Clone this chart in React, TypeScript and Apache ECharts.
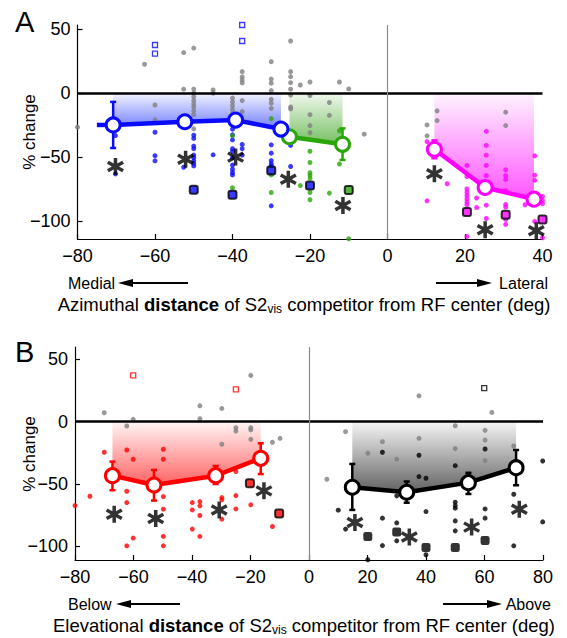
import React, { useEffect, useRef } from 'react';
import * as echarts from 'echarts';

const FONT = '"Liberation Sans", Arial, Helvetica, sans-serif';

// ---------- axis ticks ----------
const yTickValues = [-100, -50, 0, 50];
const xTicksA = [-80, -60, -40, -20, 0, 20, 40];
const xTicksB = [-80, -60, -40, -20, 0, 20, 40, 60, 80];

// ---------- Panel A (azimuthal) ----------
const aGray = [
  [-80, -26.7], [-62.7, 22.4], [-60, -9.4], [-60, -21], [-52.6, 31.5], [-52.6, 2.9],
  [-50, 35], [-50, 3], [-50, 0], [-50, -3], [-50, -6], [-50, -8.6], [-50, -11], [-50, -14], [-50, -17], [-50, -28],
  [-45, 2.3], [-45, -0.2], [-40, -4], [-40, -7], [-40, -10], [-40, -13], [-40, -16],
  [-37.5, 16.6], [-37.5, 12.5], [-37.5, 10], [-37.5, 7.8], [-37.5, -6], [-37.5, -14.6],
  [-30, 24.4], [-30, 10.8], [-30, 7.6], [-30, 1.8], [-30, -5], [-30, -8], [-30, -12],
  [-25, 40.5], [-25, 16.6], [-25, 12.7], [-25, 8], [-25, 2.9], [-25, -1.6], [-25, -11], [-25, -12.5],
  [-22.5, 6.2], [-20, 8.5], [-20, -2], [-20, -17], [-20, -25.5], [-20, -31],
  [-15, -7.5], [-15, -17.5], [-12.4, 8.5], [-10, 3.1], [-6, -32.2],
  [10.2, -25], [10.2, -33.5], [12.8, -14], [12.8, -21.6], [30.5, -15], [30.5, -25.5],
];
const aBlue = [
  [-70.2, -33.3], [-70.2, -63.2], [-60, -30.7], [-60, -49], [-60, -53], [-52.6, -58],
  [-50, -33], [-50, -35.5], [-50, -41.5], [-50, -43.5], [-50, -48.5], [-50, -50.5], [-50, -53], [-50, -55], [-50, -57],
  [-45, -48.3], [-40, -28.3], [-40, -32.7], [-40, -36.6], [-40, -43.5], [-40, -45.7], [-40, -50.5], [-40, -56.3],
  [-40, -59.5], [-40, -62.1], [-40, -64], [-37.5, -40.2], [-37.5, -43.5], [-37.5, -48.5],
  [-30, -40.5], [-30, -47], [-30, -52.8], [-30, -55.3], [-30, -57], [-30, -88.1], [-25, -41], [-25, -57.4],
];
const aBlueOpen = [[-60, 37.4], [-60, 30.6], [-37.5, 53], [-37.5, 40.5]];
const aBlueBox = [[-50, -75.6], [-40, -79.5], [-30, -60.5], [-20, -72.2]];
const aGreen = [
  [-40, -33.5], [-40, -74], [-30, -20], [-30, -64], [-30, -77.7], [-22.5, -72.3],
  [-20, -45.5], [-20, -54.3], [-20, -62.3], [-20, -64.3], [-20, -66.5], [-20, -77.7], [-20, -83.4],
  [-15, -78.2], [-12.4, -29.5], [-12.4, -55.5], [-10, -113.8],
];
const aGreenBox = [[-10, -75.7]];
const aMagenta = [
  [10.2, -38], [10.2, -84.2], [15.4, -70.9],
  [20.5, -56.6], [20.5, -65.2], [20.5, -75], [20.5, -77.5], [20.5, -80], [20.5, -82.5], [20.5, -85], [20.5, -87.3], [20.5, -112],
  [23, -82], [23, -89.4],
  [25.5, -30], [25.5, -41], [25.5, -48.6], [25.5, -56.6], [25.5, -64.5], [25.5, -87.6], [25.5, -98],
  [30.5, -60], [30.5, -64.6], [30.5, -67.5], [30.5, -76.2], [30.5, -87], [30.5, -89], [30.5, -98.7], [30.5, -102.6],
  [35.5, -87.3], [38, -49.1], [38, -64.2], [38, -68.2], [38, -100.3],
  [40, -80.8], [40, -83.8], [40, -86.4], [40, -113],
];
const aMagentaBox = [[20.5, -93], [30.5, -95.1], [40, -98.7]];
const aStars = [
  [-70.2, -57.4], [-52.1, -51.7], [-39.2, -50.1], [-25.6, -67.3], [-11.5, -87.8],
  [12.1, -63.1], [25.2, -106.8], [38.4, -107.6],
];
const blueMeanX = [-70.8, -52.3, -39.2, -27.5];
const blueMeanY = [-25, -22.5, -21.2, -28.2];
const blueErrLo = [-43, -25.5, -24.5, -31];
const blueErrHi = [-7, -19.5, -18, -25.5];
const blueXStub = [[-75, -70.8, -25]];
const greenMeanX = [-25.3, -11.6];
const greenMeanY = [-34.2, -40.1];
const greenErrLo = [-37, -52.3];
const greenErrHi = [-31, -27.7];
const magMeanX = [12.1, 25.2, 37.8];
const magMeanY = [-44, -73.8, -82.9];
const magErrLo = [-51, -76.5, -85.5];
const magErrHi = [-37, -71, -80.5];

// ---------- Panel B (elevational) ----------
const bGray = [
  [-70, 7.2], [-62.3, -3.4], [-60.1, 1.9], [-37.3, 12.8], [-37.3, 2.4], [-29.8, 10.7], [-29.8, -18.1],
  [-25, -4.8], [-25, -7.5], [-19.9, 37.2], [-19.9, -4.8], [-19.9, -6.6], [-19.9, -14.1], [-12.5, -16.5], [-9.9, -13.3],
  [6.1, -46.2], [12.5, -8], [20.1, -25.3], [25.1, -16], [30, -30.1], [37.6, 20.8], [37.6, -13.3],
  [50, -3.2], [50, -21.6], [60.2, -6.9], [60.2, -14.7], [60.2, -31.2], [62.5, 7.5], [70, -19.5],
];
const bRed = [
  [-80, -67.3], [-74.9, -59.8], [-70, -24.5], [-62.3, -22.7], [-62.3, -55.8], [-62.3, -64.9], [-62.3, -99.6],
  [-60.1, -30.1], [-60.1, -93.4], [-49.8, -22.1], [-49.8, -30.1], [-49.8, -60.1], [-49.8, -70.2], [-49.8, -92.1], [-49.8, -99.6],
  [-39.9, -64.9], [-39.9, -70.8], [-39.9, -86.2], [-37.3, -64.1], [-37.3, -67.5], [-37.3, -75.3], [-37.3, -92.1],
  [-29.8, -60.9], [-29.8, -62.7], [-29.8, -78.2], [-25, -40], [-25, -59.3], [-25, -70], [-19.9, -66.7], [-12.5, -84.1],
];
const bRedOpen = [[-60.1, 37.2], [-25, 26]];
const bRedBox = [[-20.2, -49.4], [-10.2, -73.7]];
const bBlack = [
  [10, -71], [12.5, -86.2], [20.1, -110.8], [25.1, -24.5], [25.1, -77.4], [25.1, -99.4],
  [30, -59.5], [30, -81.2], [30, -95.6], [37.6, -26.9], [37.6, -44], [40, -45.4], [40, -72.1], [40, -106.8],
  [50, -35.3], [50, -64.6], [50, -67.3], [50, -69.4], [50, -79.6], [50, -87.6],
  [60.2, -21.9], [60.2, -70], [60.2, -77.4], [70, -58.2], [70, -99.6], [79.9, -31.5], [79.9, -80.4],
];
const bBlackOpen = [[59.9, 27]];
const bBlackBox = [[20.1, -92.1], [30, -88.6], [40, -101], [50, -101], [60.2, -95.4]];
const bStars = [
  [-66.6, -74.2], [-52.4, -77.7], [-30.7, -70.8], [-15.4, -55.5],
  [15.7, -80.9], [34.3, -92.6], [55.6, -84.6], [71.9, -70.2],
];
const redMeanX = [-67.2, -53, -31.9, -16.5];
const redMeanY = [-43.3, -50.8, -43.3, -29.4];
const redErrLo = [-55, -63.3, -50, -42];
const redErrHi = [-32, -38.7, -35.5, -17.3];
const blkMeanX = [14.8, 33.4, 54.5, 70.8];
const blkMeanY = [-52.6, -56.6, -48.9, -36.9];
const blkErrLo = [-70.8, -65, -58, -51];
const blkErrHi = [-33.9, -48, -41, -22.7];

// ---------- colours ----------
const BLUE = '#0a0aff';
const GREEN = '#2aa60a';
const MAGENTA = '#ff00ff';
const RED = '#ff0000';
const BLACK = '#000000';
const GRAY = '#7f7f7f';

const STAR =
  'path://M8,20L12,20L12,0L8,0ZM17.66,16.73L19.66,13.27L2.34,3.27L0.34,6.73ZM0.34,13.27L2.34,16.73L19.66,6.73L17.66,3.27Z';

const minus = (v: number) => String(v).replace('-', '\u2212');
const zip = (xs: number[], ys: number[]) => xs.map((x, i) => [x, ys[i]]);
const zip3 = (xs: number[], a: number[], b: number[]) => xs.map((x, i) => [x, a[i], b[i]]);

function dots(data: number[][], color: string, gi: number, size = 5, z = 3, extra: any = {}) {
  return {
    type: 'scatter', xAxisIndex: gi, yAxisIndex: gi, data, symbol: 'circle', symbolSize: size,
    itemStyle: { color }, z, silent: true, clip: false, ...extra,
  };
}
function openSquares(data: number[][], color: string, gi: number) {
  return {
    type: 'scatter', xAxisIndex: gi, yAxisIndex: gi, data, symbol: 'rect', symbolSize: 5,
    itemStyle: { color: '#fff', borderColor: color, borderWidth: 1.3 }, z: 3, silent: true, clip: false,
  };
}
function boxSquares(data: number[][], color: string, gi: number, size = 8) {
  return {
    type: 'scatter', xAxisIndex: gi, yAxisIndex: gi, data, symbol: 'roundRect', symbolSize: size,
    itemStyle: { color, borderColor: '#000', borderWidth: 2 }, z: 4, silent: true, clip: false,
  };
}
function stars(data: number[][], gi: number) {
  return {
    type: 'scatter', xAxisIndex: gi, yAxisIndex: gi, data, symbol: STAR, symbolSize: [17, 17],
    itemStyle: { color: '#000' }, z: 7, silent: true, clip: false,
  };
}
function area(xs: number[], ys: number[], color: string, light: string, gi: number) {
  return {
    type: 'line', xAxisIndex: gi, yAxisIndex: gi, data: zip(xs, ys), symbol: 'none',
    lineStyle: { width: 0, opacity: 0 }, z: 1, silent: true,
    areaStyle: {
      origin: 0,
      color: new echarts.graphic.LinearGradient(0, 0, 0, 1, [
        { offset: 0, color: light },
        { offset: 1, color },
      ]),
    },
  };
}
function meanLine(xs: number[], ys: number[], color: string, gi: number) {
  return {
    type: 'line', xAxisIndex: gi, yAxisIndex: gi, data: zip(xs, ys), symbol: 'circle', symbolSize: 14,
    lineStyle: { width: 4.5, color }, itemStyle: { color: '#fff', borderColor: color, borderWidth: 3 },
    z: 6, silent: true,
  };
}
function errBars(xs: number[], lo: number[], hi: number[], color: string, gi: number) {
  return {
    type: 'custom', xAxisIndex: gi, yAxisIndex: gi, data: zip3(xs, lo, hi), z: 5, silent: true, clip: false,
    encode: { x: 0, y: [1, 2] },
    renderItem: (_p: any, api: any) => {
      const x = api.value(0);
      const a = api.coord([x, api.value(1)]);
      const b = api.coord([x, api.value(2)]);
      const st = { stroke: color, lineWidth: 2.5 };
      return {
        type: 'group',
        children: [
          { type: 'line', shape: { x1: a[0], y1: a[1], x2: b[0], y2: b[1] }, style: st },
          { type: 'line', shape: { x1: a[0] - 3, y1: a[1], x2: a[0] + 3, y2: a[1] }, style: st },
          { type: 'line', shape: { x1: b[0] - 3, y1: b[1], x2: b[0] + 3, y2: b[1] }, style: st },
        ],
      };
    },
  };
}
function hStub(data: number[][], color: string, gi: number) {
  return {
    type: 'custom', xAxisIndex: gi, yAxisIndex: gi, data, z: 5, silent: true, clip: false,
    encode: { x: [0, 1], y: 2 },
    renderItem: (_p: any, api: any) => {
      const a = api.coord([api.value(0), api.value(2)]);
      const b = api.coord([api.value(1), api.value(2)]);
      return {
        type: 'line', shape: { x1: a[0], y1: a[1], x2: b[0], y2: b[1] },
        style: { stroke: color, lineWidth: 4.5 },
      };
    },
  };
}
const refLines = {
  silent: true, symbol: ['none', 'none'], label: { show: false },
  data: [
    { yAxis: 0, lineStyle: { color: '#000', width: 2.5, type: 'solid' } },
    { xAxis: 0, lineStyle: { color: '#8a8a8a', width: 1.2, type: 'solid' } },
  ],
};

function axisBase() {
  return {
    axisLine: { show: true, onZero: false, lineStyle: { color: '#000', width: 1.2 } },
    splitLine: { show: false },
  };
}
function xAxis(gi: number, min: number, max: number, ticks: number[]) {
  return {
    type: 'value', gridIndex: gi, min, max, interval: 20, ...axisBase(),
    axisTick: { show: true, inside: true, length: 5, customValues: ticks, lineStyle: { color: '#000', width: 1.2 } },
    axisLabel: { show: true, customValues: ticks, color: '#000', fontSize: 18, fontFamily: FONT, margin: 8, formatter: minus },
  };
}
function yAxis(gi: number, min: number, max: number) {
  return {
    type: 'value', gridIndex: gi, min, max, ...axisBase(),
    axisTick: { show: true, inside: true, length: 5, customValues: yTickValues, lineStyle: { color: '#000', width: 1.2 } },
    axisLabel: { show: true, customValues: yTickValues, color: '#000', fontSize: 18, fontFamily: FONT, margin: 7, formatter: minus },
  };
}

function txt(x: number, y: number, text: string, size: number, extra: any = {}) {
  return {
    type: 'text', x, y, silent: true, ...extra,
    style: { text, fill: '#000', fontSize: size, fontFamily: FONT, align: 'left', verticalAlign: 'middle', ...(extra.style || {}) },
  };
}
function arrow(x1: number, x2: number, y: number, tipLeft: boolean) {
  const tip = tipLeft ? x1 : x2;
  const base = tipLeft ? x1 + 15 : x2 - 15;
  return [
    { type: 'line', silent: true, shape: { x1: tipLeft ? base : x1, y1: y, x2: tipLeft ? x2 : base, y2: y }, style: { stroke: '#000', lineWidth: 2 } },
    { type: 'polygon', silent: true, shape: { points: [[tip, y], [base, y - 4], [base, y + 4]] }, style: { fill: '#000' } },
  ];
}
const titleRich = {
  b: { fontWeight: 'bold', fontSize: 18.5, fontFamily: FONT, lineHeight: 22 },
  s: { fontSize: 12, fontFamily: FONT, verticalAlign: 'bottom', lineHeight: 12 },
};

export default function App() {
  const ref = useRef<HTMLDivElement>(null);
  useEffect(() => {
    if (!ref.current) return;
    const chart = echarts.init(ref.current, undefined, { renderer: 'svg' });
    const option: any = {
      animation: false,
      backgroundColor: '#fff',
      grid: [
        { left: 77.5, top: 25, width: 465, height: 214 },
        { left: 75, top: 347, width: 468, height: 213 },
      ],
      xAxis: [xAxis(0, -80, 40, xTicksA), xAxis(1, -80, 80, xTicksB)],
      yAxis: [yAxis(0, -114, 53), yAxis(1, -111, 60)],
      series: [
        // Panel A
        area(blueMeanX, blueMeanY, 'rgba(40,60,255,0.95)', 'rgba(40,60,255,0.08)', 0),
        area(greenMeanX, greenMeanY, 'rgba(50,160,20,0.95)', 'rgba(50,160,20,0.1)', 0),
        area(magMeanX, magMeanY, 'rgba(255,0,255,0.95)', 'rgba(255,0,255,0.06)', 0),
        { ...dots(aGray, GRAY, 0), markLine: refLines },
        dots(aBlue, BLUE, 0),
        dots(aGreen, GREEN, 0),
        dots(aMagenta, MAGENTA, 0),
        openSquares(aBlueOpen, BLUE, 0),
        boxSquares(aBlueBox, BLUE, 0),
        boxSquares(aGreenBox, GREEN, 0),
        boxSquares(aMagentaBox, MAGENTA, 0),
        errBars(blueMeanX, blueErrLo, blueErrHi, BLUE, 0),
        errBars(greenMeanX, greenErrLo, greenErrHi, GREEN, 0),
        errBars(magMeanX, magErrLo, magErrHi, MAGENTA, 0),
        hStub(blueXStub, BLUE, 0),
        meanLine(greenMeanX, greenMeanY, GREEN, 0),
        meanLine(blueMeanX, blueMeanY, BLUE, 0),
        meanLine(magMeanX, magMeanY, MAGENTA, 0),
        stars(aStars, 0),
        // Panel B
        area(redMeanX, redMeanY, 'rgba(255,20,20,0.95)', 'rgba(255,20,20,0.06)', 1),
        area(blkMeanX, blkMeanY, 'rgba(20,20,20,0.95)', 'rgba(20,20,20,0.06)', 1),
        { ...dots(bGray, GRAY, 1), markLine: refLines },
        dots(bRed, RED, 1),
        dots(bBlack, BLACK, 1),
        openSquares(bRedOpen, RED, 1),
        openSquares(bBlackOpen, BLACK, 1),
        boxSquares(bRedBox, RED, 1),
        {
          type: 'scatter', xAxisIndex: 1, yAxisIndex: 1, data: bBlackBox, symbol: 'roundRect', symbolSize: 9,
          itemStyle: { color: '#000' }, z: 4, silent: true, clip: false,
        },
        errBars(redMeanX, redErrLo, redErrHi, RED, 1),
        errBars(blkMeanX, blkErrLo, blkErrHi, BLACK, 1),
        meanLine(redMeanX, redMeanY, RED, 1),
        meanLine(blkMeanX, blkMeanY, BLACK, 1),
        stars(bStars, 1),
      ],
      graphic: [
        txt(15, 22, 'A', 29),
        txt(15, 352, 'B', 29),
        txt(29, 132, '% change', 17, { rotation: Math.PI / 2, style: { align: 'center' } }),
        txt(29, 454, '% change', 17, { rotation: Math.PI / 2, style: { align: 'center' } }),
        txt(68, 283, 'Medial', 16),
        ...arrow(118, 188, 283, true),
        txt(548, 283, 'Lateral', 16, { style: { align: 'right' } }),
        ...arrow(436, 492, 283, false),
        txt(68, 604, 'Below', 16),
        ...arrow(116, 180, 604, true),
        txt(551, 604, 'Above', 16, { style: { align: 'right' } }),
        ...arrow(443, 502, 604, false),
        {
          type: 'text', x: 304, y: 304, silent: true,
          style: {
            text: 'Azimuthal {b|distance} of S2{s|vis} competitor from RF center (deg)',
            rich: titleRich, fill: '#000', fontSize: 18.5, fontFamily: FONT, lineHeight: 22,
            align: 'center', verticalAlign: 'middle',
          },
        },
        {
          type: 'text', x: 304, y: 625, silent: true,
          style: {
            text: 'Elevational {b|distance} of S2{s|vis} competitor from RF center (deg)',
            rich: titleRich, fill: '#000', fontSize: 18.5, fontFamily: FONT, lineHeight: 22,
            align: 'center', verticalAlign: 'middle',
          },
        },
      ],
    };
    chart.setOption(option);
    return () => chart.dispose();
  }, []);
  return <div ref={ref} style={{ position: 'absolute', left: 0, top: 0, width: 567, height: 638 }} />;
}
